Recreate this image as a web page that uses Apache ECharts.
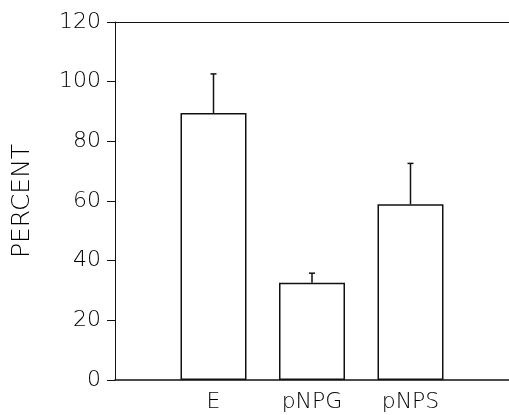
<!DOCTYPE html>
<html>
<head>
<meta charset="utf-8">
<script src="https://cdn.jsdelivr.net/npm/echarts@6/dist/echarts.min.js"></script>
<style>
  html, body { margin: 0; padding: 0; background: #fff; }
  #chart { width: 509px; height: 415px; }
</style>
</head>
<body>
<div id="chart"></div>
<script>
var categories = ['E', 'pNPG', 'pNPS'];
var means = [89.5, 32.6, 58.9];
var errors = [13.1, 3.2, 13.7];
var yTicks = [0, 20, 40, 60, 80, 100, 120];

// blank slots either side so the bars sit on ticks 1..3 of 4 intervals
var axisCats = [''].concat(categories, ['']);
var barData = ['-'].concat(means, ['-']);
var errData = means.map(function (m, i) { return [i + 1, m, errors[i]]; });

var dom = document.getElementById('chart');
var myChart = echarts.init(dom, null, { renderer: 'canvas' });

var ink = '#111';
var textInk = '#000';
var font = 'DejaVu Sans';

var option = {
  animation: false,
  backgroundColor: '#fff',
  grid: { left: 115, right: 0, top: 22, bottom: 35, outerBoundsMode: 'none', containLabel: false },
  xAxis: [
    {
      type: 'category',
      data: axisCats,
      boundaryGap: false,
      axisLine: { lineStyle: { color: ink, width: 1.5 } },
      axisTick: { show: false },
      axisLabel: { color: textInk, fontSize: 22, fontFamily: font, fontWeight: 200, margin: 11, interval: 0 },
      splitLine: { show: false }
    },
    {
      type: 'category',
      data: axisCats,
      position: 'top',
      boundaryGap: false,
      axisLine: { lineStyle: { color: ink, width: 1 } },
      axisTick: { show: false },
      axisLabel: { show: false }
    }
  ],
  yAxis: {
    type: 'value',
    min: yTicks[0],
    max: yTicks[yTicks.length - 1],
    interval: 20,
    name: 'PERCENT',
    nameLocation: 'middle',
    nameGap: 80,
    nameTextStyle: { color: textInk, fontSize: 25, fontFamily: font, fontWeight: 200 },
    axisLine: { show: true, lineStyle: { color: ink, width: 1 } },
    axisTick: { show: true, length: 8, lineStyle: { color: ink } },
    axisLabel: { color: textInk, fontSize: 22, fontFamily: font, fontWeight: 200, margin: 14 },
    splitLine: { show: false }
  },
  series: [
    {
      type: 'bar',
      data: barData,
      barWidth: 66,
      itemStyle: { color: '#fff', borderColor: ink, borderWidth: 1.5 }
    },
    {
      type: 'custom',
      data: errData,
      z: 3,
      renderItem: function (params, api) {
        var x = api.value(0);
        var m = api.value(1);
        var e = api.value(2);
        var base = api.coord([x, m]);
        var top = api.coord([x, m + e]);
        var cap = 3;
        return {
          type: 'group',
          children: [
            { type: 'line', shape: { x1: base[0], y1: base[1], x2: top[0], y2: top[1] },
              style: { stroke: ink, lineWidth: 1.5 } },
            { type: 'line', shape: { x1: top[0] - cap, y1: top[1], x2: top[0] + cap, y2: top[1] },
              style: { stroke: ink, lineWidth: 1.5 } }
          ]
        };
      }
    }
  ]
};

myChart.setOption(option);
window.addEventListener('resize', myChart.resize);
</script>
</body>
</html>
